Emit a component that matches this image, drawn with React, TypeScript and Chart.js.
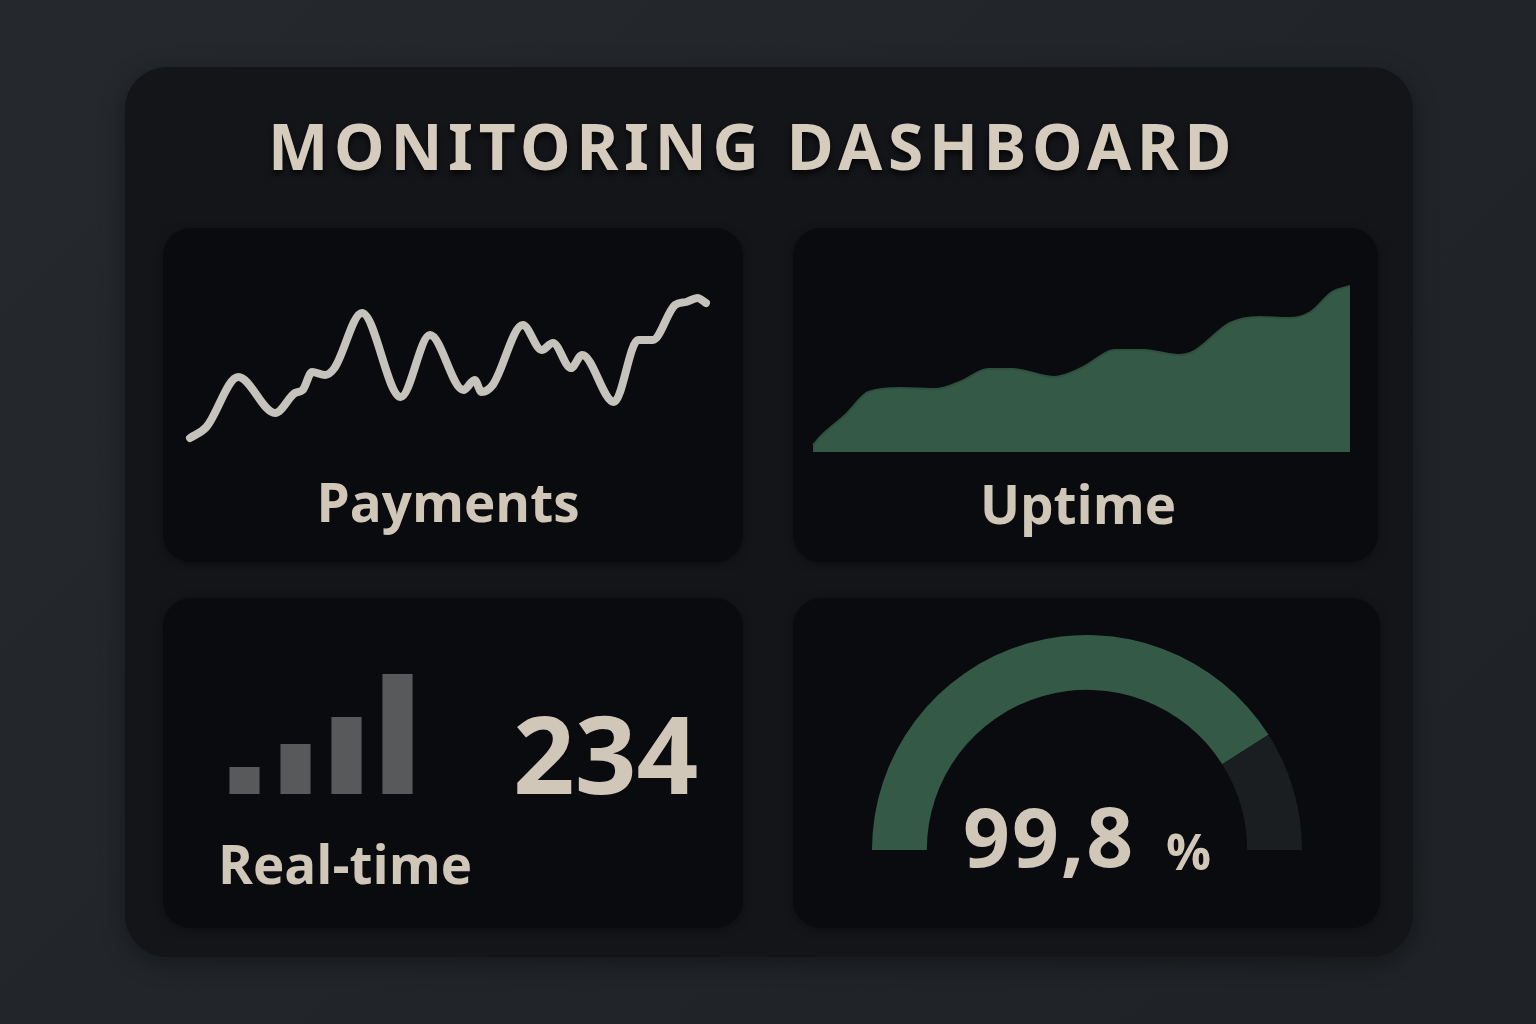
import React, { useEffect, useRef } from "react";
import { Chart, registerables } from "chart.js";

Chart.register(...registerables);

// ---- Data ----
const TITLE = "MONITORING DASHBOARD";

// Payments (minutes 0..60, arbitrary units)
const PAY_X = [0, 1.9, 5.6, 9.9, 12.2, 13.1, 14.2, 15.7, 16.8, 20.0, 24.5, 27.9, 31.8, 33.1, 33.9, 35.2, 38.7, 40.9, 42.2, 44.3, 45.6, 49.3, 52.1, 53.8, 56.4, 57.7, 59.0, 60.0];
const PAY_Y = [12, 23, 73, 37, 57, 60, 78, 75, 82, 137, 53, 115, 60, 70, 58, 65, 125, 100, 107, 82, 95, 48, 110, 110, 145, 148, 152, 147];

// Uptime (days 0..30)
const UP_X = [0, 0.5, 1.8, 3.1, 4.9, 6.9, 8.2, 9.8, 11.1, 13.5, 15.0, 16.9, 18.5, 20.4, 21.2, 23.3, 24.9, 26.6, 27.8, 29.0, 30];
const UP_Y = [7, 17, 37, 60, 64, 63, 70, 83, 83, 75, 84, 102, 102, 97, 100, 129, 135, 134, 140, 160, 166];

// Real-time bars
const RT_LABELS = ["t-3", "t-2", "t-1", "now"];
const RT_VALUES = [27, 50, 77, 120];
const RT_COUNT = "234";

// Gauge
const GAUGE_VALUES = [82, 18];
const GAUGE_TEXT = "99,8";

const LABEL_COLOR = "#d1c7b9";
const GREEN = "#345a47";

const baseOpts: any = {
  animation: false,
  responsive: false,
  layout: { padding: 0 },
  plugins: { legend: { display: false }, tooltip: { enabled: false } },
};

function useChart(factory: (c: HTMLCanvasElement) => Chart) {
  const ref = useRef<HTMLCanvasElement | null>(null);
  useEffect(() => {
    if (!ref.current) return;
    const ch = factory(ref.current);
    return () => ch.destroy();
  }, []);
  return ref;
}

const abs = (l: number, t: number, w: number, h: number): React.CSSProperties => ({
  position: "absolute",
  left: l,
  top: t,
  width: w,
  height: h,
});

export default function App() {
  const lineRef = useChart(
    (c) =>
      new Chart(c, {
        type: "line",
        data: {
          datasets: [
            {
              data: PAY_X.map((x, i) => ({ x, y: PAY_Y[i] })),
              borderColor: "#c6c3bc",
              borderWidth: 8,
              pointRadius: 0,
              cubicInterpolationMode: "monotone",
              borderCapStyle: "round",
              borderJoinStyle: "round",
              fill: false,
            } as any,
          ],
        },
        options: {
          ...baseOpts,
          scales: {
            x: { type: "linear", display: false, min: -2.33, max: 61.63 },
            y: { display: false, min: -5, max: 170 },
          },
        },
      })
  );

  const areaRef = useChart(
    (c) =>
      new Chart(c, {
        type: "line",
        data: {
          datasets: [
            {
              data: UP_X.map((x, i) => ({ x, y: UP_Y[i] })),
              borderColor: "#30503f",
              backgroundColor: GREEN,
              borderWidth: 2,
              pointRadius: 0,
              cubicInterpolationMode: "monotone",
              fill: "origin",
            } as any,
          ],
        },
        options: {
          ...baseOpts,
          scales: {
            x: { type: "linear", display: false, min: -0.73, max: 30.84 },
            y: { display: false, min: -8, max: 177 },
          },
        },
      })
  );

  const barRef = useChart(
    (c) =>
      new Chart(c, {
        type: "bar",
        data: {
          labels: RT_LABELS,
          datasets: [
            {
              data: RT_VALUES,
              backgroundColor: "#58595b",
              categoryPercentage: 1,
              barPercentage: 0.59,
            },
          ],
        },
        options: {
          ...baseOpts,
          scales: {
            x: { display: false },
            y: { display: false, min: 0, max: 130 },
          },
        },
      })
  );

  const gaugeRef = useChart(
    (c) =>
      new Chart(c, {
        type: "doughnut",
        data: {
          labels: ["up", "rest"],
          datasets: [
            {
              data: GAUGE_VALUES,
              backgroundColor: [GREEN, "#1b1e21"],
              borderWidth: 0,
            },
          ],
        },
        options: {
          ...baseOpts,
          rotation: -90,
          circumference: 180,
          cutout: "74.5%",
        } as any,
      })
  );

  const panel: React.CSSProperties = {
    position: "absolute",
    background: "#0a0b0e",
    borderRadius: 28,
    boxShadow: "0 2px 10px rgba(0,0,0,0.35)",
  };
  const labelFont: React.CSSProperties = {
    position: "absolute",
    fontFamily: "'Open Sans', 'Noto Sans', sans-serif",
    fontWeight: 700,
    fontSize: 53,
    lineHeight: 1,
    color: LABEL_COLOR,
    whiteSpace: "nowrap",
  };

  return (
    <div
      style={{
        position: "fixed",
        left: 0,
        top: 0,
        width: 1536,
        height: 1024,
        background: "linear-gradient(135deg, #25282d 0%, #212429 60%, #1f2226 100%)",
        overflow: "hidden",
      }}
    >
      <div
        style={{
          ...abs(125, 67, 1288, 890),
          background: "#131519",
          borderRadius: 42,
          boxShadow: "0 6px 24px rgba(0,0,0,0.35)",
        }}
      />
      <div
        style={{
          position: "absolute",
          left: 268,
          top: 114,
          fontFamily: "'Noto Sans', sans-serif",
          fontWeight: 700,
          fontSize: 64,
          lineHeight: 1,
          letterSpacing: 5.7,
          color: "#d6ccbe",
          whiteSpace: "nowrap",
          textShadow: "0 4px 6px rgba(0,0,0,0.7)",
        }}
      >
        {TITLE}
      </div>

      <div style={{ ...panel, ...abs(163, 228, 580, 334) }} />
      <div style={{ ...panel, ...abs(793, 228, 585, 334) }} />
      <div style={{ ...panel, ...abs(163, 598, 580, 330) }} />
      <div style={{ ...panel, ...abs(793, 598, 587, 330) }} />

      <canvas ref={lineRef} width={550} height={175} style={abs(170, 280, 550, 175)} />
      <canvas ref={areaRef} width={565} height={185} style={abs(800, 275, 565, 185)} />
      <canvas ref={barRef} width={204} height={130} style={abs(219, 664, 204, 130)} />
      <canvas ref={gaugeRef} width={430} height={215} style={abs(872, 635, 430, 215)} />

      <div style={{ ...labelFont, left: 163, width: 570, top: 475, textAlign: "center" }}>Payments</div>
      <div style={{ ...labelFont, left: 793, width: 570, top: 477, textAlign: "center" }}>Uptime</div>
      <div style={{ ...labelFont, left: 218, top: 837, letterSpacing: 0 }}>Real-time</div>
      <div style={{ ...labelFont, left: 513, top: 699, fontSize: 108 }}>{RT_COUNT}</div>
      <div style={{ ...labelFont, left: 963, top: 794, fontSize: 82, letterSpacing: 2 }}>{GAUGE_TEXT}</div>
      <div style={{ ...labelFont, left: 1166, top: 826, fontSize: 50 }}>%</div>
    </div>
  );
}
